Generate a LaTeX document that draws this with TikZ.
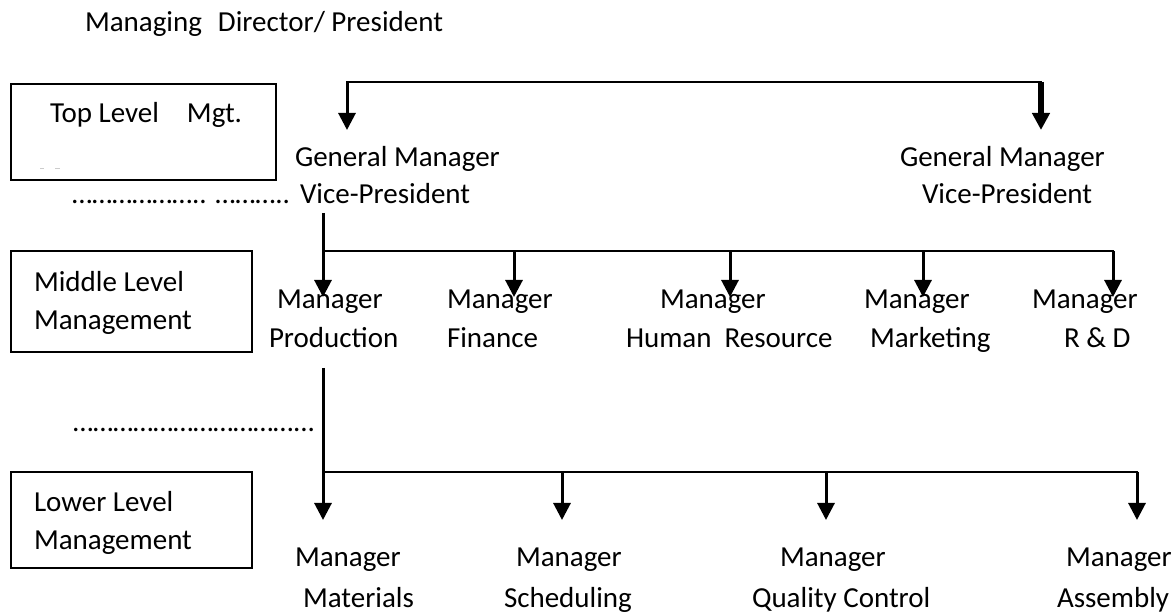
\documentclass[tikz,border=0pt]{standalone}
\usepackage{fontspec}
\setmainfont{Carlito}
\usetikzlibrary{arrows.meta}
\begin{document}
\begin{tikzpicture}[x=0.5pt,y=-0.5pt,
  every node/.style={font=\fontsize{14.5pt}{17pt}\selectfont, inner sep=0pt, outer sep=0pt},
  txt/.style={anchor=base west},
  lvlbox/.style={draw, line width=1.35pt, fill=none},
  hline/.style={line width=1.35pt, line cap=rect},
  vline/.style={line width=1.5pt},
  arr/.style={line width=1.5pt, -{Triangle[width=8.5pt,length=8.5pt]}},
  thickarr/.style={line width=2.6pt, -{Triangle[width=8.5pt,length=8.5pt]}}]
\useasboundingbox (0,0) rectangle (1175,614);

% title
\node[txt] (title) at (85,32) {Managing\hspace{8pt}Director/ President};

% level boxes
\node[lvlbox, minimum width=132.5pt, minimum height=48pt] (topbox) at (143.5,132) {};
\node[lvlbox, minimum width=120.5pt, minimum height=50.5pt] (midbox) at (131.5,301.5) {};
\node[lvlbox, minimum width=120.5pt, minimum height=48pt] (lowbox) at (131.5,520) {};
\node[txt] (toptxt) at (50,123) {Top Level\hspace{14pt}Mgt.};
\draw[gray!40, line width=0.5pt] (40,169) -- (44,169) (55,169) -- (60,169);
\node[txt] (midtxt1) at (34,292) {Middle Level};
\node[txt] (midtxt2) at (34,330) {Management};
\node[txt] (lowtxt1) at (34,512) {Lower Level};
\node[txt] (lowtxt2) at (34,550) {Management};

% general managers
\node[txt] (gl1) at (295,167) {General Manager};
\node[txt] (gl2) at (300,204) {Vice-President};
\node[txt] (gr1) at (900,167) {General Manager};
\node[txt] (gr2) at (922,204) {Vice-President};
\node[txt] (dots1) at (72,204) {……………….. ………..};

% top connector
\coordinate (tl) at (347,82);
\coordinate (tr) at (1041,82);
\coordinate (tlt) at (347,130);
\coordinate (trt) at (1041,130);
\draw[hline] (tl) -- (tr);
\draw[arr] (tl) -- (tlt);
\draw[thickarr] (tr) -- (trt);

% middle managers
\node[txt] (mp1) at (277,309) {Manager};
\node[txt] (mp2) at (269,348) {Production};
\node[txt] (mf1) at (447,309) {Manager};
\node[txt] (mf2) at (447,348) {Finance};
\node[txt] (mh1) at (660,309) {Manager};
\node[txt] (mh2) at (626,348) {Human\hspace{6.5pt}Resource};
\node[txt] (mm1) at (864,309) {Manager};
\node[txt] (mm2) at (870,348) {Marketing};
\node[txt] (mr1) at (1032,309) {Manager};
\node[txt] (mr2) at (1064,348) {R \& D};

\coordinate (v1a) at (323,213);
\coordinate (j1) at (323,251);
\coordinate (j2) at (514,251);
\coordinate (j3) at (730,251);
\coordinate (j4) at (923,251);
\coordinate (j5) at (1113,251);
\draw[vline] (v1a) -- (j1);
\draw[hline] (j1) -- (j5);
\foreach \j in {j1,j2,j3,j4,j5}{
  \draw[arr] (\j) -- ++(0,46);
}

\node[txt] (dots2) at (73,432) {{…}{…}{…}{…}{…}{…}{…}{…}{…}{…}{…}...};

% lower managers
\node[txt] (la1) at (295,567) {Manager};
\node[txt] (la2) at (303,608) {Materials};
\node[txt] (lb1) at (516,567) {Manager};
\node[txt] (lb2) at (504,608) {Scheduling};
\node[txt] (lc1) at (780,567) {Manager};
\node[txt] (lc2) at (752,608) {Quality Control};
\node[txt] (ld1) at (1066,567) {Manager};
\node[txt] (ld2) at (1057,608) {Assembly};

\coordinate (v2a) at (323,368);
\coordinate (k1) at (323,472);
\coordinate (k2) at (562,472);
\coordinate (k3) at (826,472);
\coordinate (k4) at (1137,472);
\draw[vline] (v2a) -- (k1);
\draw[hline] (k1) -- (k4);
\foreach \k in {k1,k2,k3,k4}{
  \draw[arr] (\k) -- ++(0,48);
}
\end{tikzpicture}
\end{document}
